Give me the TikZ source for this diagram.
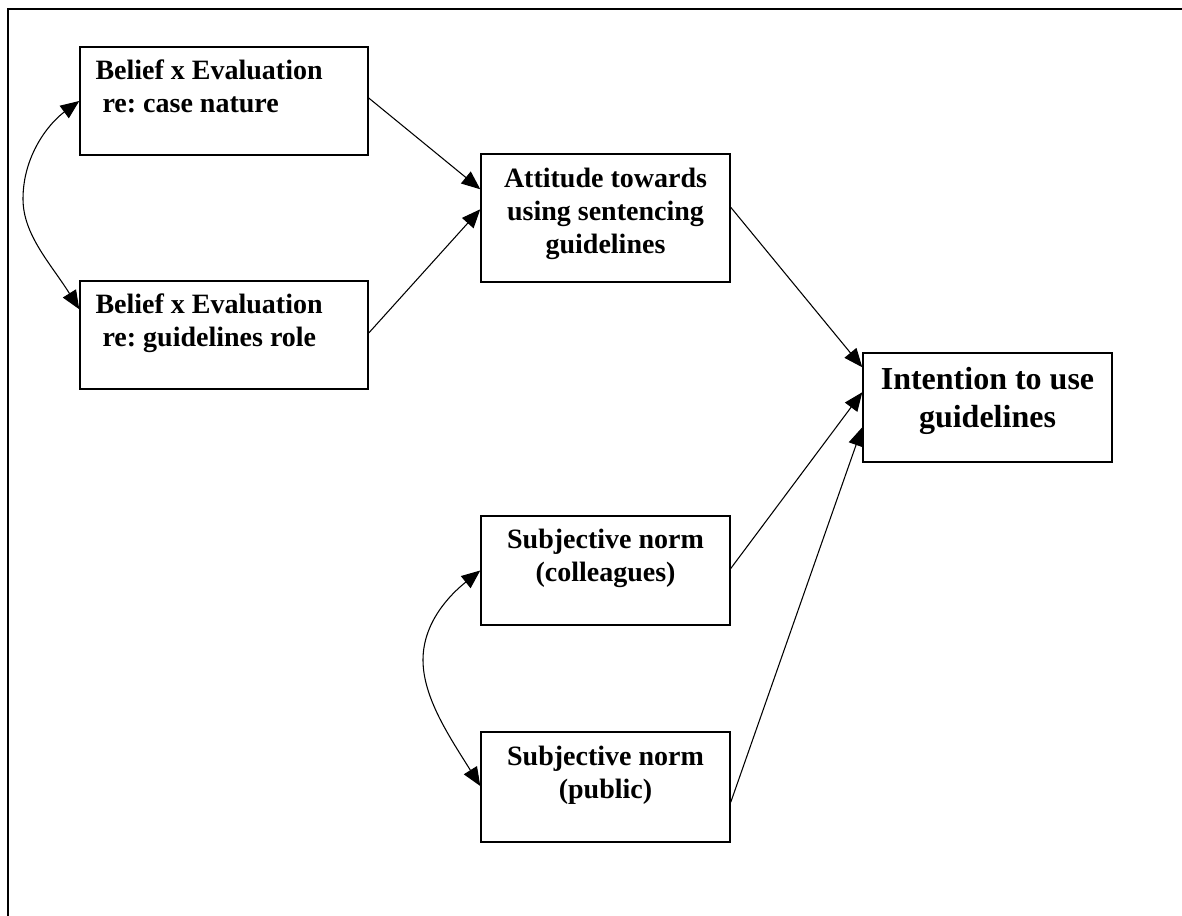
\documentclass[tikz,border=0pt]{standalone}
\usepackage{fontspec}
\setmainfont{Liberation Serif}
\usetikzlibrary{arrows.meta,calc}
\newcommand{\boxfont}{\fontsize{21}{24.75}\selectfont\bfseries\frenchspacing}
\newcommand{\bigboxfont}{\fontsize{24}{28.5}\selectfont\bfseries\frenchspacing}
\begin{document}
\frenchspacing
\begin{tikzpicture}[x=0.75pt,y=-0.75pt,
  box/.style={draw, line width=1.1pt, inner sep=0pt},
  wide/.style={box, minimum width=216pt, minimum height=81pt},
  mid/.style={box, minimum width=186.75pt, minimum height=81.75pt},
  txt/.style={inner sep=0pt, font=\boxfont},
  bigtxt/.style={inner sep=0pt, font=\bigboxfont},
  conn/.style={-{Triangle[length=14pt,width=11.5pt]}, line width=0.8pt},
  dconn/.style={{Triangle[length=14pt,width=11.5pt]}-{Triangle[length=14pt,width=11.5pt]}, line width=0.8pt},
  frame/.style={line width=1.6pt}]
\useasboundingbox (0,0) rectangle (1182,916);
\fill[white] (0,0) rectangle (1182,916);
% outer frame (cut off at right and bottom)
\coordinate (fbl) at (8,930);
\coordinate (ftl) at (8,9);
\coordinate (ftr) at (1195,9);
\draw[frame] (fbl) -- (ftl) -- (ftr);

% boxes
\node[wide] (b1) at (224,101) {};
\node[wide] (b2) at (224,335) {};
\node[box, minimum width=186.75pt, minimum height=96pt] (att) at (605.5,218) {};
\node[mid] (int) at (987.5,407.5) {};
\node[mid] (col) at (605.5,570.5) {};
\node[mid, minimum height=82.5pt] (pub) at (605.5,787) {};

% texts
\node[txt, anchor=base west] (b1t) at ($(b1.north west)+(16,33)$)
  {\begin{tabular}[t]{@{}l@{}}Belief x Evaluation\\\ re: case nature\end{tabular}};
\node[txt, anchor=base west] (b2t) at ($(b2.north west)+(16,33)$)
  {\begin{tabular}[t]{@{}l@{}}Belief x Evaluation\\\ re: guidelines role\end{tabular}};
\node[txt, anchor=base] (attt) at ($(att.north)+(0,34)$)
  {\begin{tabular}[t]{@{}c@{}}Attitude towards\\using sentencing\\guidelines\end{tabular}};
\node[bigtxt, anchor=base] (intt) at ($(int.north)+(0,37)$)
  {\begin{tabular}[t]{@{}c@{}}Intention to use\\guidelines\end{tabular}};
\node[txt, anchor=base] (colt) at ($(col.north)+(0,33)$)
  {\begin{tabular}[t]{@{}c@{}}Subjective norm\\(colleagues)\end{tabular}};
\node[txt, anchor=base] (pubt) at ($(pub.north)+(0,34)$)
  {\begin{tabular}[t]{@{}c@{}}Subjective norm\\(public)\end{tabular}};

% straight connectors
\draw[conn] ($(b1.east)+(0,-3)$) -- ($(att.north west)+(0,36)$);
\draw[conn] ($(b2.east)+(0,-2)$) -- ($(att.north west)+(0,56)$);
\draw[conn] ($(att.north east)+(0,54)$) -- ($(int.north west)+(0,15)$);
\draw[conn] ($(col.east)+(0,-2)$) -- ($(int.north west)+(0,40)$);
\draw[conn] ($(pub.north east)+(0,71)$) -- ($(int.north west)+(0,75)$);

% curved double-headed connectors
\draw[dconn] (b1.west) .. controls +(-30,22) and +(0,-44) .. (23,199)
  .. controls +(0,36) and +(-28,-45) .. ($(b2.north west)+(0,29)$);
\draw[dconn] (col.west) .. controls +(-30,24) and +(0,-38) .. (423,660)
  .. controls +(0,38) and +(-30,-48) .. ($(pub.west)+(0,-1)$);
\end{tikzpicture}
\end{document}
